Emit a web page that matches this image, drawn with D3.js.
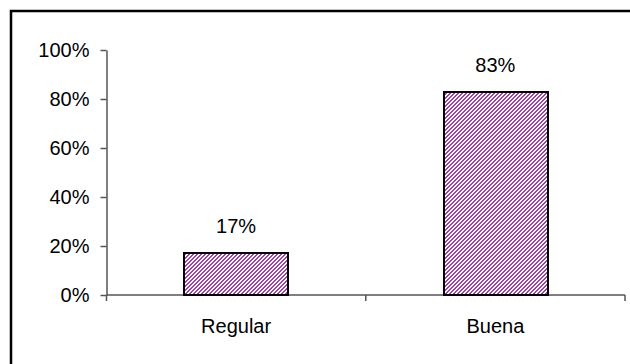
<!DOCTYPE html>
<html>
<head>
<meta charset="utf-8">
<script src="https://cdn.jsdelivr.net/npm/d3@7"></script>
<style>
  body { margin: 0; background: #fff; }
  svg text { font-family: Arial, "Liberation Sans", sans-serif; fill: #000; }
</style>
</head>
<body>
<div id="chart"></div>
<script>
// data
var categories = ["Regular", "Buena"];
var values = [0.17, 0.83];
var yTicks = [0, 0.2, 0.4, 0.6, 0.8, 1.0];

var width = 630, height = 364;
var plot = { left: 106.5, right: 625, top: 50, bottom: 295 };

var svg = d3.select("#chart").append("svg")
	.attr("width", width)
	.attr("height", height);

// hatch pattern for the bars: 4x4 pixel tile, "/" stripes
var defs = svg.append("defs");
var pat = defs.append("pattern")
	.attr("id", "hatch")
	.attr("patternUnits", "userSpaceOnUse")
	.attr("width", 4)
	.attr("height", 4);
pat.append("rect").attr("width", 4).attr("height", 4).attr("fill", "#fff");
for (var px = 0; px < 4; px++) {
	for (var py = 0; py < 4; py++) {
		if ((px + py) % 4 >= 2) {
			pat.append("rect")
				.attr("x", px).attr("y", py)
				.attr("width", 1).attr("height", 1)
				.attr("fill", "#a040a8")
				.attr("shape-rendering", "crispEdges");
		}
	}
}

// outer frame (cut at right & bottom like the picture)
svg.append("rect")
	.attr("x", 11).attr("y", 11)
	.attr("width", 700).attr("height", 500)
	.attr("fill", "none")
	.attr("stroke", "#000")
	.attr("stroke-width", 2.5);

var x = d3.scaleBand()
	.domain(categories)
	.range([plot.left, plot.right])
	.paddingInner(0.6)
	.paddingOuter(0.3);

var y = d3.scaleLinear()
	.domain([0, 1])
	.range([plot.bottom, plot.top]);

// y axis
var yAxis = svg.append("g")
	.attr("transform", "translate(" + plot.left + ",0)")
	.call(d3.axisLeft(y).tickValues(yTicks).tickFormat(d3.format(".0%")).tickSize(6).tickSizeOuter(0).tickPadding(11));
yAxis.select(".domain").attr("stroke", "#555").attr("stroke-width", 1.5);
yAxis.selectAll(".tick line").attr("stroke", "#555").attr("stroke-width", 1.5);
yAxis.selectAll("text").style("font-size", "20px").attr("fill", "#000");

// x axis line + ticks at category boundaries
svg.append("line")
	.attr("x1", plot.left).attr("x2", plot.right)
	.attr("y1", y(0)).attr("y2", y(0))
	.attr("stroke", "#555").attr("stroke-width", 1.5);
var bounds = [plot.left].concat(categories.map(function (c) {
	return x(c) + x.bandwidth() + x.step() * 0.3;
}));
svg.selectAll(".xtick").data(bounds).enter().append("line")
	.attr("class", "xtick")
	.attr("x1", function (d) { return d; })
	.attr("x2", function (d) { return d; })
	.attr("y1", y(0)).attr("y2", y(0) + 6)
	.attr("stroke", "#555").attr("stroke-width", 1.5);

// bars
svg.selectAll(".bar").data(values).enter().append("rect")
	.attr("class", "bar")
	.attr("x", function (d, i) { return Math.round(x(categories[i])); })
	.attr("y", function (d) { return Math.round(y(d)); })
	.attr("width", Math.round(x.bandwidth()))
	.attr("height", function (d) { return Math.round(y(0)) - Math.round(y(d)); })
	.attr("fill", "url(#hatch)")
	.attr("stroke", "#000")
	.attr("stroke-width", 2);

// value labels
svg.selectAll(".val").data(values).enter().append("text")
	.attr("class", "val")
	.attr("x", function (d, i) { return x(categories[i]) + x.bandwidth() / 2; })
	.attr("y", function (d) { return y(d) - 20; })
	.attr("text-anchor", "middle")
	.style("font-size", "20px")
	.text(function (d) { return d3.format(".0%")(d); });

// category labels
svg.selectAll(".cat").data(categories).enter().append("text")
	.attr("class", "cat")
	.attr("x", function (d) { return x(d) + x.bandwidth() / 2; })
	.attr("y", 333)
	.attr("text-anchor", "middle")
	.style("font-size", "20px")
	.text(function (d) { return d; });
</script>
</body>
</html>
